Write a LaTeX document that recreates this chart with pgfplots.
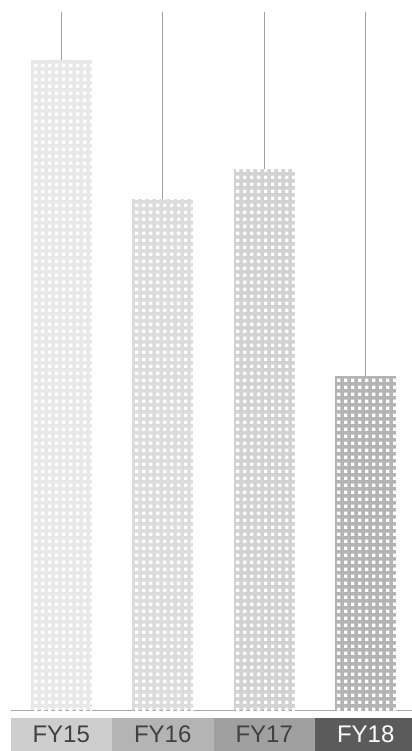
\documentclass[border=0pt]{standalone}
\usepackage{pgfplots}
\pgfplotsset{compat=1.18}
\usetikzlibrary{patterns}
\usepackage{fontspec}
\setmainfont{Liberation Sans}

\definecolor{bar15}{HTML}{E8E8E8}
\definecolor{bar16}{HTML}{DCDCDC}
\definecolor{bar17}{HTML}{D2D2D2}
\definecolor{bar18}{HTML}{B4B4B4}
\definecolor{box15}{HTML}{CECECE}
\definecolor{box16}{HTML}{B4B4B4}
\definecolor{box17}{HTML}{A0A0A0}
\definecolor{box18}{HTML}{5B5B5B}
\definecolor{labtxt}{HTML}{414141}
\definecolor{stem}{HTML}{A0A0A0}
\definecolor{baseln}{HTML}{A8A8A8}

% white square dots laid over the bar fill
\pgfdeclarepatternformonly{whitesquares}{\pgfpointorigin}{\pgfpoint{6.75bp}{6.75bp}}{\pgfpoint{6.75bp}{6.75bp}}{%
  \pgfpathrectangle{\pgfpointorigin}{\pgfpoint{3.4bp}{3.4bp}}\pgfusepath{fill}}

% coloured year box under each bar
\newcommand\yearbox[3]{{\setlength\fboxsep{0pt}\colorbox{#1}{\parbox[c][33bp][c]{101.5bp}{\centering\fontsize{24bp}{28bp}\selectfont\color{#2}#3}}}}

\pgfplotsset{
  fybar/.style={ybar, bar width=61bp, bar shift=0pt, draw=none, fill=#1,
    postaction={pattern=whitesquares, pattern color=white},
    error bars/.cd, y dir=plus, y explicit, error mark=none,
    error bar style={draw=stem, line width=1.1bp}},
}

\begin{document}
\begin{tikzpicture}
\useasboundingbox (-10.5bp,-41bp) rectangle (401.5bp,710bp);
\begin{axis}[
  at={(0,0)}, anchor=south west,
  width=406bp, height=698bp, scale only axis,
  xmin=-0.5, xmax=3.5, ymin=0, ymax=698,
  axis x line=bottom, axis y line=none,
  axis line style={-, draw=baseln, line width=1bp},
  xtick={0,1,2,3},
  xticklabels={\yearbox{box15}{labtxt}{FY15},\yearbox{box16}{labtxt}{FY16},\yearbox{box17}{labtxt}{FY17},\yearbox{box18}{white}{FY18}},
  xticklabel style={anchor=north, inner sep=0pt, yshift=-8bp},
  major tick length=0pt, ytick=\empty,
  clip=false,
]
\addplot[fybar=bar15] coordinates {(0,650) +- (0,48)};
\addplot[fybar=bar16] coordinates {(1,511) +- (0,187)};
\addplot[fybar=bar17] coordinates {(2,541) +- (0,157)};
\addplot[fybar=bar18] coordinates {(3,334) +- (0,364)};
\end{axis}
\end{tikzpicture}
\end{document}
